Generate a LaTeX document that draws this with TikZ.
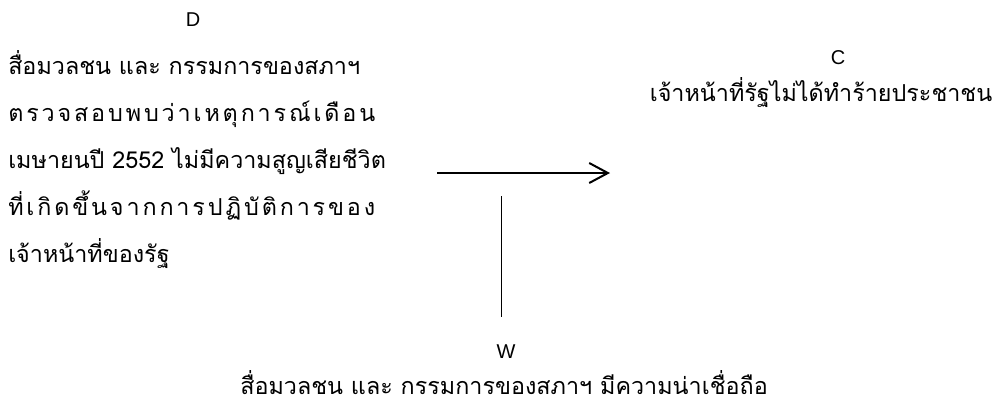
\documentclass[tikz,border=0pt]{standalone}
\usepackage{fontspec}
\setmainfont{Liberation Sans}
\newfontfamily\thai[Script=Thai]{Loma}
\usetikzlibrary{arrows.meta}
\tikzset{
  lat/.style={font=\fontsize{15}{18}\selectfont, inner sep=0pt},
  th/.style={font=\thai\fontsize{17.5}{21}\selectfont, inner sep=0pt},
  conn/.style={line width=1.5pt},
}
\newcommand{\thsp}{\hfill}
\begin{document}
\begin{tikzpicture}[x=0.75pt,y=-0.75pt]
\useasboundingbox (0,0) rectangle (996,412);
\node[lat] (D) at (193,20) {D};
\node[th, anchor=base west] (d1) at (8,74) {สื่อมวลชน และ กรรมการของสภาฯ};
\node[th, anchor=base west] (d2) at (8,121) {\makebox[275.25pt][s]{ต\thsp ร\thsp ว\thsp จ\thsp ส\thsp อ\thsp บ\thsp พ\thsp บ\thsp ว่\thsp า\thsp เ\thsp ห\thsp ตุ\thsp ก\thsp า\thsp ร\thsp ณ์\thsp เ\thsp ดื\thsp อ\thsp น}};
\node[th, anchor=base west] (d3) at (8,168) {เมษายนปี 2552 ไม่มีความสูญเสียชีวิต};
\node[th, anchor=base west] (d4) at (8,215) {\makebox[275.25pt][s]{ที่\thsp เ\thsp กิ\thsp ด\thsp ขึ้\thsp น\thsp จ\thsp า\thsp ก\thsp ก\thsp า\thsp ร\thsp ป\thsp ฏิ\thsp บั\thsp ติ\thsp ก\thsp า\thsp ร\thsp ข\thsp อ\thsp ง}};
\node[th, anchor=base west] (d5) at (8,262) {เจ้าหน้าที่ของรัฐ};
\node[lat] (C) at (838,58) {C};
\node[th, anchor=base] (c1) at (821,101) {เจ้าหน้าที่รัฐไม่ได้ทำร้ายประชาชน};
\node[lat] (W) at (506,352) {W};
\node[th, anchor=base] (w1) at (504,394) {สื่อมวลชน และ กรรมการของสภาฯ มีความน่าเชื่อถือ};
\coordinate (a1) at (437,173);
\coordinate (a2) at (610,173);
\coordinate (v1) at (501.5,196);
\coordinate (v2) at (501.5,317);
\draw[conn, -{Straight Barb[length=14pt,width=15pt,line width=1.5pt]}] (a1) -- (a2);
\draw[conn, line width=1.3pt] (v1) -- (v2);
\end{tikzpicture}
\end{document}
